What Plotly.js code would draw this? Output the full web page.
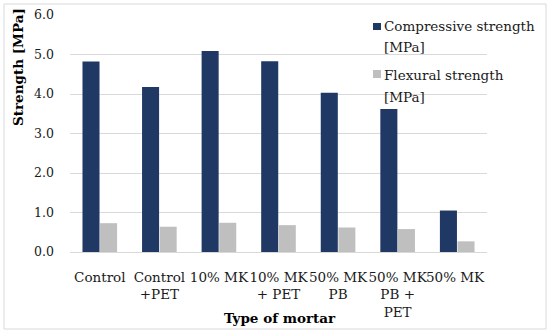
<!DOCTYPE html>
<html>
<head>
<meta charset="utf-8">
<script src="https://cdn.plot.ly/plotly-3.0.1.min.js"></script>
<style>html,body{margin:0;padding:0;background:#fff;}#chart{width:550px;height:334px;}</style>
</head>
<body>
<div id="chart"></div>
<script>
const categories = ["Control", "Control<br>+PET", "10% MK", "10% MK<br>+ PET", "50% MK<br>PB", "50% MK<br>PB +<br>PET", "50% MK "];
const compressive = [4.82, 4.18, 5.09, 4.83, 4.03, 3.62, 1.05];
const flexural = [0.73, 0.64, 0.74, 0.68, 0.62, 0.58, 0.27];
const seriesNames = ["Compressive strength", "Flexural strength"];
const unitLabel = "[MPa]";
const yTicks = [0, 1, 2, 3, 4, 5, 6];
const yTickText = ["0.0", "1.0", "2.0", "3.0", "4.0", "5.0", "6.0"];

const FONT = "DejaVu Serif";
const colors = ["#203864", "#bfbfbf"];
const L = 70, R = 487, T = 15, B = 252;
const px = x => (x - L) / (R - L);
const py = y => (B - y) / (B - T);

const traces = [
  {type: "bar", x: categories, y: compressive, name: seriesNames[0], marker: {color: colors[0]}, hoverinfo: "none"},
  {type: "bar", x: categories, y: flexural, name: seriesNames[1], marker: {color: colors[1]}, hoverinfo: "none"}
];

const shapes = [
  {type: "rect", xref: "paper", yref: "paper", x0: px(4), x1: px(546), y0: py(329), y1: py(4), line: {color: "#d9d9d9", width: 1}, fillcolor: "rgba(0,0,0,0)", layer: "below"},
  {type: "rect", xref: "paper", yref: "paper", x0: px(373), x1: px(381), y0: py(30), y1: py(23), line: {width: 0}, fillcolor: colors[0]},
  {type: "rect", xref: "paper", yref: "paper", x0: px(373), x1: px(381), y0: py(78), y1: py(70), line: {width: 0}, fillcolor: colors[1]}
];

const legendFont = {family: FONT, size: 13.5, color: "#1a1a1a"};
const annotations = [
  {xref: "paper", yref: "paper", x: px(18), y: py(67), text: "<b>Strength [MPa]</b>", textangle: -90, showarrow: false, xanchor: "center", yanchor: "middle", font: {family: FONT, size: 13.5, color: "#000"}},
  {xref: "paper", yref: "paper", x: px(280), y: py(318), text: "<b>Type of mortar</b>", showarrow: false, xanchor: "center", yanchor: "middle", font: {family: FONT, size: 13.5, color: "#000"}},
  {xref: "paper", yref: "paper", x: px(382), y: py(26), text: seriesNames[0], showarrow: false, xanchor: "left", yanchor: "middle", font: legendFont},
  {xref: "paper", yref: "paper", x: px(382), y: py(47), text: unitLabel, showarrow: false, xanchor: "left", yanchor: "middle", font: legendFont},
  {xref: "paper", yref: "paper", x: px(382), y: py(75), text: seriesNames[1], showarrow: false, xanchor: "left", yanchor: "middle", font: legendFont},
  {xref: "paper", yref: "paper", x: px(382), y: py(97), text: unitLabel, showarrow: false, xanchor: "left", yanchor: "middle", font: legendFont}
];

const layout = {
  width: 550, height: 334,
  margin: {l: L, r: 550 - R, t: T, b: 334 - B, pad: 0},
  paper_bgcolor: "#fff", plot_bgcolor: "rgba(0,0,0,0)",
  showlegend: false,
  barmode: "group", bargap: 0.41, bargroupgap: 0.03,
  font: {family: FONT, size: 13.5, color: "#000"},
  xaxis: {
    type: "category", tickfont: {family: FONT, size: 13.5, color: "#1a1a1a"},
    tickangle: 0,
    showgrid: false, showline: false, ticks: "", ticklabelstandoff: 15,
    automargin: false
  },
  yaxis: {
    range: [0, 6], tickvals: yTicks, ticktext: yTickText,
    tickfont: {family: FONT, size: 12.5, color: "#1a1a1a"},
    showgrid: true, gridcolor: "#d9d9d9", gridwidth: 1,
    zeroline: true, zerolinecolor: "#d9d9d9", zerolinewidth: 1,
    showline: false, ticks: "", ticklabelstandoff: 15,
    automargin: false
  },
  shapes: shapes,
  annotations: annotations
};

Plotly.newPlot("chart", traces, layout, {staticPlot: true, displayModeBar: false});
</script>
</body>
</html>
